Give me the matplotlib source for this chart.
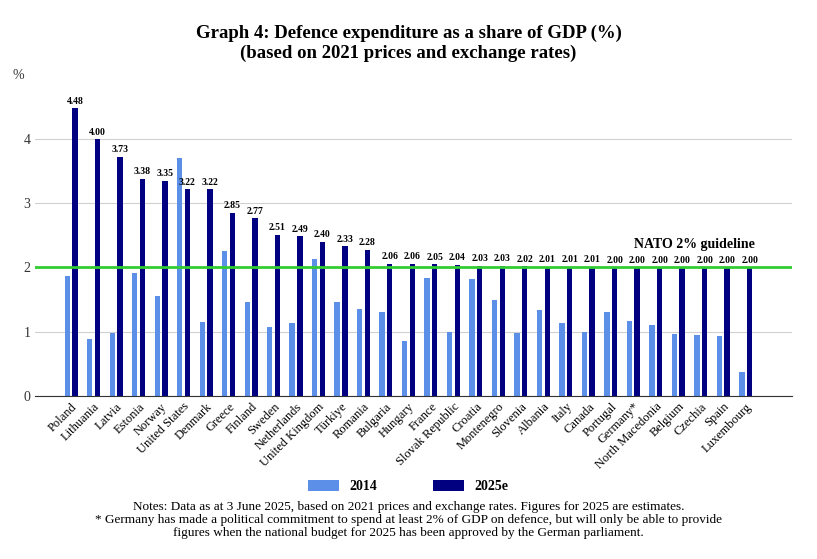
import matplotlib
matplotlib.use("Agg")
import matplotlib.pyplot as plt
import numpy as np

countries = ["Poland","Lithuania","Latvia","Estonia","Norway","United States","Denmark","Greece","Finland","Sweden","Netherlands","United Kingdom","Türkiye","Romania","Bulgaria","Hungary","France","Slovak Republic","Croatia","Montenegro","Slovenia","Albania","Italy","Canada","Portugal","Germany*","North Macedonia","Belgium","Czechia","Spain","Luxembourg"]
v2014 = [1.86,0.88,0.98,1.91,1.55,3.71,1.15,2.25,1.46,1.07,1.13,2.14,1.46,1.35,1.31,0.86,1.83,0.99,1.82,1.50,0.98,1.34,1.13,1.00,1.31,1.16,1.10,0.97,0.94,0.93,0.37]
v2025 = [4.48,4.00,3.73,3.38,3.35,3.22,3.22,2.85,2.77,2.51,2.49,2.40,2.33,2.28,2.06,2.06,2.05,2.04,2.03,2.03,2.02,2.01,2.01,2.01,2.00,2.00,2.00,2.00,2.00,2.00,2.00]

plt.rcParams["font.family"] = "Liberation Serif"
fig = plt.figure(figsize=(8.17,5.59), dpi=100)
ax = fig.add_axes([0.043,0.292,0.926,0.545])
x = np.arange(len(countries))
w = 0.24
ax.bar(x-0.17, v2014, w, color="#5B8FE8", label="2014", zorder=2)
ax.bar(x+0.17, v2025, w, color="#000080", label="2025e", zorder=2)
for xi, v in zip(x, v2025):
    ax.text(xi+0.17, v+0.04, f"{v:.2f}", ha="center", va="bottom", fontsize=7, fontweight="bold")
ax.axhline(2, color="#33CC33", lw=2, zorder=3)
ax.text(len(countries)-0.6, 2.25, "NATO 2% guideline", ha="right", va="bottom", fontsize=10, fontweight="bold")
ax.set_ylim(0, 4.75)
ax.set_xlim(-1.6, len(countries)+1.04)
ax.set_yticks([0,1,2,3,4])
ax.yaxis.grid(True, color="#d0d0d0", lw=0.8, zorder=0)
ax.set_axisbelow(True)
for s in ["left","right","top"]:
    ax.spines[s].set_visible(False)
ax.spines["bottom"].set_color("#333333")
ax.tick_params(axis="y", length=0, labelsize=10, colors="#333333")
ax.tick_params(axis="x", length=0, labelsize=9)
ax.set_xticks(x)
ax.set_xticklabels(countries, rotation=45, ha="right", rotation_mode="anchor")
ax.text(-0.03, 1.04, "%", transform=ax.transAxes, fontsize=10, color="#333333")
fig.suptitle("Graph 4: Defence expenditure as a share of GDP (%)\n(based on 2021 prices and exchange rates)",
             y=0.955, fontsize=13.5, fontweight="bold")
fig.legend(loc="lower center", bbox_to_anchor=(0.5, 0.095), ncol=2, frameon=False,
           handlelength=2.2, handleheight=0.8, columnspacing=4,
           prop={"weight":"bold","size":10})
fig.text(0.5, 0.035, "Notes: Data as at 3 June 2025, based on 2021 prices and exchange rates. Figures for 2025 are estimates.\n"
         "* Germany has made a political commitment to spend at least 2% of GDP on defence, but will only be able to provide\n"
         "figures when the national budget for 2025 has been approved by the German parliament.",
         ha="center", va="bottom", fontsize=9.5, linespacing=1.15)
fig.savefig("out.png", dpi=100)
